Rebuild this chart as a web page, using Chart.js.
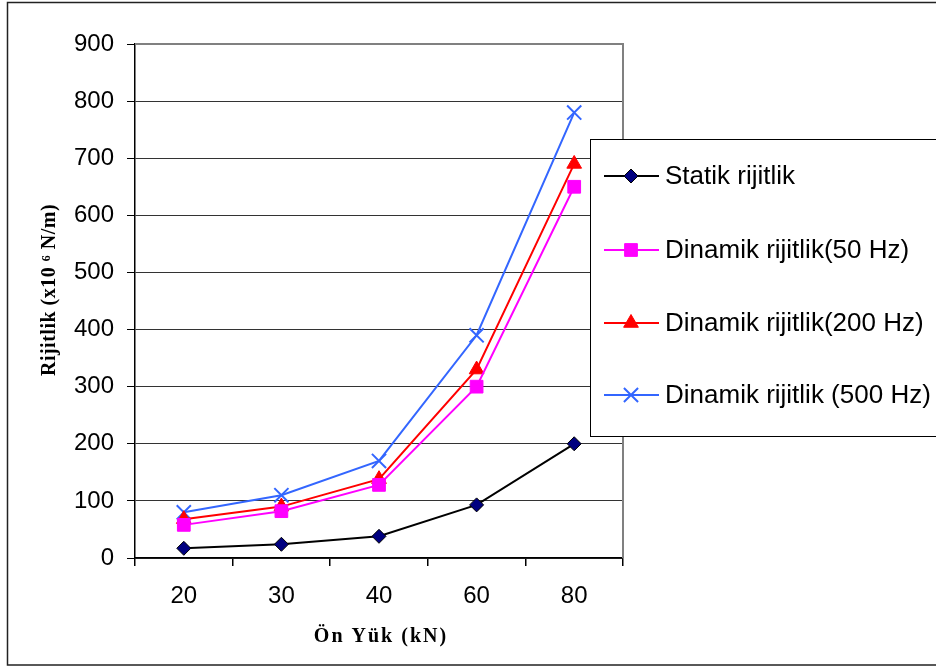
<!DOCTYPE html>
<html>
<head>
<meta charset="utf-8">
<title>Rijitlik - Ön Yük</title>
<script src="https://cdn.jsdelivr.net/npm/chart.js@4/dist/chart.umd.min.js"></script>
<style>
  html, body { margin: 0; padding: 0; background: #fff; }
  #wrap { width: 936px; height: 670px; }
</style>
</head>
<body>
<div id="wrap"><canvas id="c" width="936" height="670"></canvas></div>
<script>
// Ön yük (kN) kategorileri
const categories = ['20', '30', '40', '60', '80'];

// Rijitlik değerleri (x10^6 N/m)
const statikRijitlik = [17, 24, 38, 93, 200];
const dinamik50Hz   = [58, 82, 128, 300, 650];
const dinamik200Hz  = [68, 90, 138, 330, 690];
const dinamik500Hz  = [80, 110, 170, 390, 780];

const seriesNames = [
  'Statik rijitlik',
  'Dinamik rijitlik(50 Hz)',
  'Dinamik rijitlik(200 Hz)',
  'Dinamik rijitlik (500 Hz)'
];

const yTicks = { min: 0, max: 900, step: 100 };

const xTitle = 'Ön Yük (kN)';
const yTitle = 'Rijitlik (x10 \u2076 N/m)';

const SANS = '"Liberation Sans", Arial, sans-serif';
const SERIF = '"Liberation Serif", "Times New Roman", serif';

// Dış çerçeve, çizim alanının gri kenarları ve eksen başlıkları
const framePlugin = {
  id: 'frame',
  beforeDraw(chart) {
    const ctx = chart.ctx;
    ctx.save();
    ctx.fillStyle = '#fff';
    ctx.fillRect(0, 0, chart.width, chart.height);
    ctx.strokeStyle = '#222';
    ctx.lineWidth = 1.5;
    ctx.strokeRect(7.5, 2.5, 960, 662.5);
    ctx.restore();
  },
  beforeDatasetsDraw(chart) {
    const { ctx, chartArea: a } = chart;
    ctx.save();
    ctx.strokeStyle = '#808080';
    ctx.lineWidth = 2;
    ctx.beginPath();
    ctx.moveTo(a.left, a.top);
    ctx.lineTo(a.right, a.top);
    ctx.lineTo(a.right, a.bottom);
    ctx.stroke();
    ctx.restore();
  },
  afterDraw(chart) {
    const { ctx, chartArea: a } = chart;
    ctx.save();
    ctx.fillStyle = '#000';
    ctx.textAlign = 'center';
    ctx.textBaseline = 'middle';
    // x ekseni başlığı
    ctx.font = 'bold 20px ' + SERIF;
    ctx.letterSpacing = '2px';
    ctx.fillText(xTitle, (a.left + a.right) / 2 + 2, 637);
    // y ekseni başlığı
    ctx.letterSpacing = '0.5px';
    ctx.translate(50, 290);
    ctx.rotate(-Math.PI / 2);
    ctx.fillText(yTitle, 0, 0);
    ctx.restore();
  }
};

// Çizim alanının üzerine binen lejant kutusu
const legendBoxPlugin = {
  id: 'legendBox',
  afterDatasetsDraw(chart) {
    const ctx = chart.ctx;
    const box = { x: 590.5, y: 139.5, w: 400, h: 297 };
    ctx.save();
    ctx.fillStyle = '#fff';
    ctx.fillRect(box.x, box.y, box.w, box.h);
    ctx.strokeStyle = '#000';
    ctx.lineWidth = 1;
    ctx.strokeRect(box.x, box.y, box.w, box.h);
    const rowY = [176, 250, 323, 395];
    chart.data.datasets.forEach((ds, i) => {
      const y = rowY[i];
      ctx.strokeStyle = ds.borderColor;
      ctx.lineWidth = ds.borderWidth;
      ctx.beginPath();
      ctx.moveTo(604, y);
      ctx.lineTo(659, y);
      ctx.stroke();
      ctx.fillStyle = ds.pointBackgroundColor;
      ctx.strokeStyle = ds.pointBorderColor;
      ctx.lineWidth = ds.pointBorderWidth;
      Chart.helpers.drawPoint(ctx, {
        pointStyle: ds.pointStyle,
        radius: ds.pointRadius,
        rotation: 0,
        borderWidth: ds.pointBorderWidth
      }, 631, y);
      ctx.fillStyle = '#000';
      ctx.font = '26px ' + SANS;
      ctx.textAlign = 'left';
      ctx.textBaseline = 'middle';
      ctx.fillText(ds.label, 665, y + 1);
    });
    ctx.restore();
  }
};

new Chart(document.getElementById('c'), {
  type: 'line',
  data: {
    labels: categories,
    datasets: [
      {
        label: seriesNames[0], data: statikRijitlik,
        borderColor: '#000000', borderWidth: 2,
        pointStyle: 'rectRot', pointRadius: 7,
        pointBackgroundColor: '#000080', pointBorderColor: '#000000', pointBorderWidth: 1
      },
      {
        label: seriesNames[1], data: dinamik50Hz,
        borderColor: '#FF00FF', borderWidth: 2,
        pointStyle: 'rect', pointRadius: 9,
        pointBackgroundColor: '#FF00FF', pointBorderColor: '#FF00FF', pointBorderWidth: 1
      },
      {
        label: seriesNames[2], data: dinamik200Hz,
        borderColor: '#FF0000', borderWidth: 2,
        pointStyle: 'triangle', pointRadius: 8.5,
        pointBackgroundColor: '#FF0000', pointBorderColor: '#FF0000', pointBorderWidth: 1
      },
      {
        label: seriesNames[3], data: dinamik500Hz,
        borderColor: '#3366FF', borderWidth: 2,
        pointStyle: 'crossRot', pointRadius: 10,
        pointBackgroundColor: '#3366FF', pointBorderColor: '#3366FF', pointBorderWidth: 2
      }
    ]
  },
  options: {
    responsive: false,
    animation: false,
    devicePixelRatio: 1,
    layout: { padding: { left: 0, top: 44, right: 313, bottom: 0 } },
    plugins: {
      legend: { display: false },
      tooltip: { enabled: false },
      title: { display: false }
    },
    elements: { line: { tension: 0 } },
    scales: {
      x: {
        type: 'category',
        offset: true,
        grid: {
          offset: true, drawOnChartArea: false,
          tickLength: 8, tickColor: '#000', color: '#000', lineWidth: 1.5
        },
        border: { color: '#000', width: 1.5 },
        ticks: {
          font: { family: SANS, size: 24 }, color: '#000',
          padding: 16, maxRotation: 0, autoSkip: false
        },
        afterFit(scale) { scale.height = 112; }
      },
      y: {
        min: yTicks.min, max: yTicks.max,
        ticks: {
          stepSize: yTicks.step,
          font: { family: SANS, size: 24 }, color: '#000', padding: 13
        },
        grid: { color: '#333333', tickColor: '#000', tickLength: 8, lineWidth: 1 },
        border: { color: '#000', width: 1.5 },
        afterFit(scale) { scale.width = 135; }
      }
    }
  },
  plugins: [framePlugin, legendBoxPlugin]
});
</script>
</body>
</html>
